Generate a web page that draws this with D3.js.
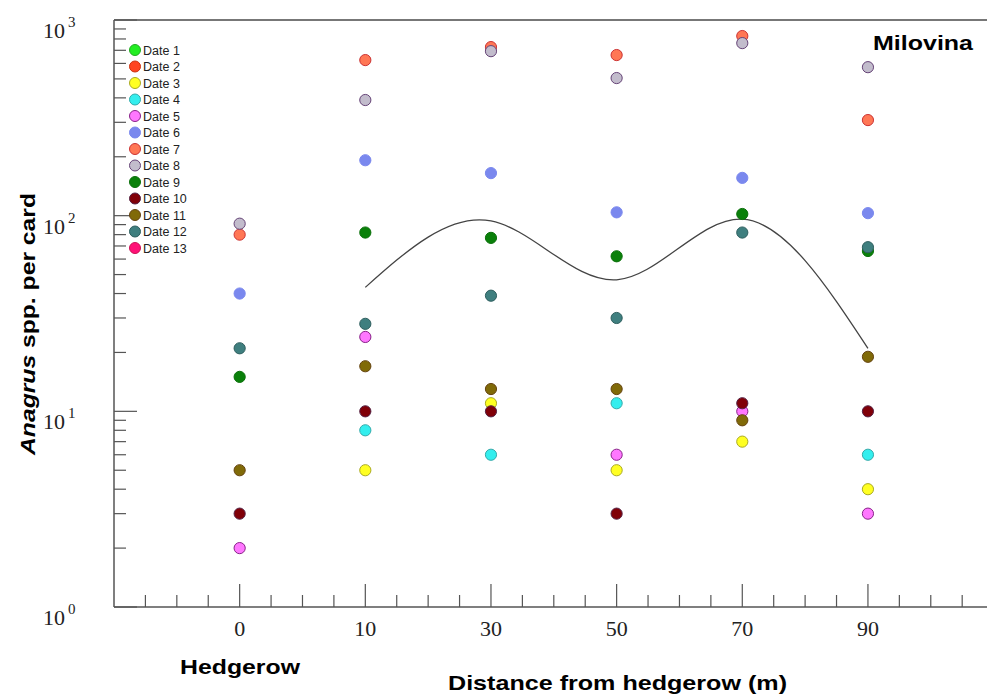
<!DOCTYPE html>
<html>
<head>
<meta charset="utf-8">
<script src="https://cdn.jsdelivr.net/npm/d3@7"></script>
<style>
  body { margin: 0; background: #fff; }
  svg { display: block; }
</style>
</head>
<body>
<div id="chart"></div>
<script>
// categories on the x axis
let distances = ["0", "10", "30", "50", "70", "90"];

// one series per sampling date (null = no point)
let dateNames = ["Date 1", "Date 2", "Date 3", "Date 4", "Date 5", "Date 6", "Date 7",
                 "Date 8", "Date 9", "Date 10", "Date 11", "Date 12", "Date 13"];
let dateColors = ["#22ee22", "#ff4420", "#ffff22", "#33eeee", "#ff77ff", "#7a88ee", "#ff7755",
                  "#c2bccc", "#0a800a", "#800008", "#806a08", "#3f7f7f", "#ff1177"];
let dateStrokes = ["#22aa22", "#cc3311", "#aaaa22", "#33aaaa", "#882288", "#7a88ee", "#cc3333",
                   "#664477", "#0a700a", "#552244", "#664411", "#2f5f5f", "#cc1155"];

let date1 = [null, null, null, null, null, null];
let date2 = [null, null, null, null, null, null];
let date3 = [null, 5, 11, 5, 7, 4];
let date4 = [null, 8, 6, 11, null, 6];
let date5 = [2, 24, null, 6, 10, 3];
let date6 = [40, 192, 165, 104, 156, 103];
let date7 = [80, 624, 727, 662, 828, 308];
let date8 = [91, 390, 693, 505, 762, 574];
let date9 = [15, 82, 77, 62, 102, 66];
let date10 = [3, 10, 10, 3, 11, 10];
let date11 = [5, 17, 13, 13, 9, 19];
let date12 = [21, 28, 39, 30, 82, 69];
let date13 = [null, null, null, null, null, null];
let series = [date1, date2, date3, date4, date5, date6, date7, date8, date9, date10, date11, date12, date13];

// smoothed trend line
let trend = [null, 43, 94, 47, 96, 21];

let width = 987,
    height = 698;

let svg = d3.select("#chart")
  .append("svg")
  .attr("width", width)
  .attr("height", height);

let x = d3.scaleLinear()
  .domain([-1, 6])
  .range([114, 993.6]);

let y = d3.scaleLog()
  .domain([1, 1000])
  .range([607, 20]);

let axisColor = "#555";

// frame: top border + axes
svg.append("line")
  .attr("x1", x(-1)).attr("x2", width)
  .attr("y1", y(1000)).attr("y2", y(1000))
  .attr("stroke", "#777").attr("stroke-width", 2);

svg.append("line")
  .attr("x1", x(-1)).attr("x2", x(-1))
  .attr("y1", y(1000)).attr("y2", y(1))
  .attr("stroke", axisColor).attr("stroke-width", 1.5);

svg.append("line")
  .attr("x1", x(-1)).attr("x2", width)
  .attr("y1", y(1)).attr("y2", y(1))
  .attr("stroke", axisColor).attr("stroke-width", 1.5);

// y ticks (inward)
let yTicks = y.ticks();
svg.append("g").selectAll("line")
  .data(yTicks)
  .enter().append("line")
  .attr("x1", x(-1))
  .attr("x2", d => Number.isInteger(Math.log10(d)) ? x(-1) + 23 : x(-1) + 12)
  .attr("y1", d => y(d))
  .attr("y2", d => y(d))
  .attr("stroke", axisColor)
  .attr("stroke-width", 1.2);

let decades = yTicks.filter(d => Number.isInteger(Math.log10(d)));
let yLab = svg.append("g").selectAll("text")
  .data(decades)
  .enter().append("text")
  .attr("x", 43)
  .attr("y", d => y(d) + 18)
  .attr("font-family", "'Liberation Serif', 'Times New Roman', serif")
  .attr("font-size", 22)
  .attr("fill", "#222");
yLab.append("tspan").text("10");
yLab.append("tspan")
  .attr("dx", 3)
  .attr("dy", -11)
  .attr("font-size", 15)
  .text(d => Math.round(Math.log10(d)));

// x ticks (inward)
let xMinor = d3.range(-0.75, 6, 0.25).filter(d => !Number.isInteger(d));
let xMajor = d3.range(0, distances.length);

svg.append("g").selectAll("line")
  .data(xMinor)
  .enter().append("line")
  .attr("x1", d => x(d)).attr("x2", d => x(d))
  .attr("y1", y(1)).attr("y2", y(1) - 12)
  .attr("stroke", axisColor).attr("stroke-width", 1.2);

svg.append("g").selectAll("line")
  .data(xMajor)
  .enter().append("line")
  .attr("x1", d => x(d)).attr("x2", d => x(d))
  .attr("y1", y(1)).attr("y2", y(1) - 23)
  .attr("stroke", axisColor).attr("stroke-width", 1.2);

svg.append("g").selectAll("text")
  .data(xMajor)
  .enter().append("text")
  .attr("x", d => x(d))
  .attr("y", 636)
  .attr("text-anchor", "middle")
  .attr("font-family", "'Liberation Serif', 'Times New Roman', serif")
  .attr("font-size", 22)
  .attr("fill", "#222")
  .text(d => distances[d]);

// trend curve
let line = d3.line()
  .defined(d => d != null)
  .x((d, i) => x(i))
  .y(d => y(d))
  .curve(d3.curveNatural);

svg.append("path")
  .datum(trend)
  .attr("d", line(trend.map((d, i) => d == null ? null : d)))
  .attr("fill", "none")
  .attr("stroke", "#444")
  .attr("stroke-width", 1.3);

// points, drawn in date order
let points = [];
series.forEach((s, k) => {
  s.forEach((v, i) => {
    if (v != null) points.push({ date: k, pos: i, value: v });
  });
});

svg.append("g").selectAll("circle")
  .data(points)
  .enter().append("circle")
  .attr("cx", d => x(d.pos))
  .attr("cy", d => y(d.value))
  .attr("r", 5.6)
  .attr("fill", d => dateColors[d.date])
  .attr("stroke", d => dateStrokes[d.date])
  .attr("stroke-width", 1);

// legend
let legY = d3.scaleLinear().domain([0, dateNames.length - 1]).range([50, 248]);
let legend = svg.append("g").selectAll("g")
  .data(dateNames)
  .enter().append("g")
  .attr("transform", (d, i) => "translate(135," + legY(i) + ")");

legend.append("circle")
  .attr("r", 5.5)
  .attr("fill", (d, i) => dateColors[i])
  .attr("stroke", (d, i) => dateStrokes[i])
  .attr("stroke-width", 1);

legend.append("text")
  .attr("x", 8)
  .attr("y", 4.5)
  .attr("font-family", "'Liberation Sans', Arial, sans-serif")
  .attr("font-size", 12.5)
  .attr("fill", "#222")
  .text(d => d);

// labels
let sans = "'Liberation Sans', Arial, Helvetica, sans-serif";

svg.append("text")
  .attr("x", 873).attr("y", 50)
  .attr("font-family", sans).attr("font-weight", "bold").attr("font-size", 21)
  .attr("textLength", 100).attr("lengthAdjust", "spacingAndGlyphs")
  .text("Milovina");

svg.append("text")
  .attr("x", 180).attr("y", 674)
  .attr("font-family", sans).attr("font-weight", "bold").attr("font-size", 21)
  .attr("textLength", 120).attr("lengthAdjust", "spacingAndGlyphs")
  .text("Hedgerow");

svg.append("text")
  .attr("x", 448).attr("y", 690)
  .attr("font-family", sans).attr("font-weight", "bold").attr("font-size", 21)
  .attr("textLength", 339).attr("lengthAdjust", "spacingAndGlyphs")
  .text("Distance from hedgerow (m)");

let yTitle = svg.append("text")
  .attr("transform", "translate(35,455) rotate(-90)")
  .attr("font-family", sans).attr("font-weight", "bold").attr("font-size", 21)
  .attr("textLength", 262).attr("lengthAdjust", "spacingAndGlyphs");
yTitle.append("tspan").attr("font-style", "italic").text("Anagrus");
yTitle.append("tspan").text(" spp. per card");
</script>
</body>
</html>
